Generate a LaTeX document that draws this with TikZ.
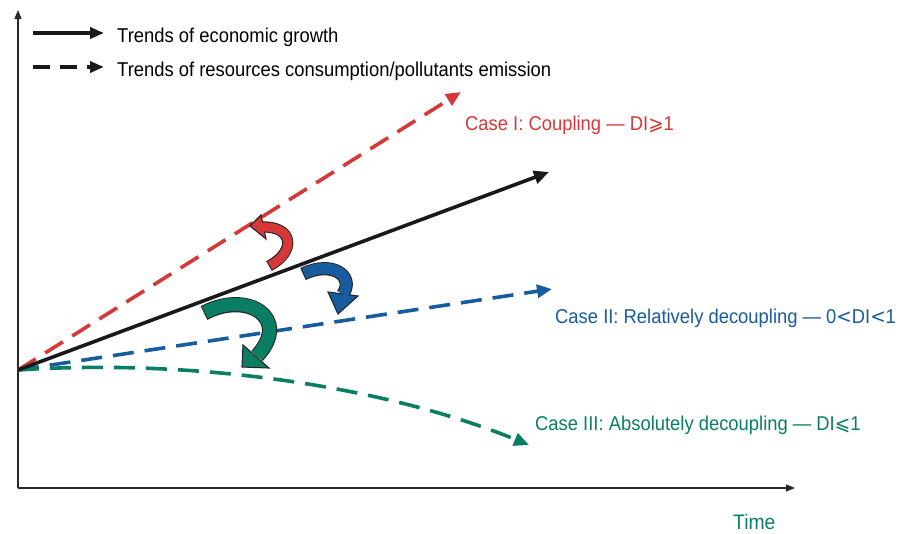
\documentclass[tikz,border=0pt]{standalone}
\usepackage{fontspec}
\setmainfont{Liberation Sans}[FakeStretch=0.92]
\newfontfamily\symfont{DejaVu Sans}[FakeStretch=0.92]
\usetikzlibrary{arrows.meta}
\definecolor{cred}{RGB}{214,56,56}
\definecolor{cblue}{RGB}{22,92,158}
\definecolor{cgreen}{RGB}{10,126,100}
\definecolor{caxis}{RGB}{40,40,40}
\tikzset{
  axis/.style={line width=1.3pt, draw=caxis, -{Triangle[length=9pt,width=7pt]}},
  trend/.style={line width=3.6pt, -{Triangle[length=15pt,width=13pt]}},
  dashtrend/.style={trend, dash pattern=on 21pt off 11pt},
  lbl/.style={anchor=base west, inner sep=0pt, font=\fontsize{20}{22}\selectfont},
  outline/.style={draw=black!85, line width=1.1pt},
}
% fat curved arrow: #1 colour, #2 width, #3 body path, #4 head triangle
\newcommand\fatarrow[4]{%
  \draw[black!85, line width=#2+2.2pt] #3;
  \filldraw[fill=#1, outline] #4;
  \draw[#1, line width=#2, shorten <=1.1pt] #3;
}
\begin{document}
\begin{tikzpicture}[x=1pt,y=-1pt]
\useasboundingbox (0,0) rectangle (899,533);
% axes
\coordinate (O) at (18,488);
\coordinate (ytop) at (18,10);
\coordinate (xend) at (795,488);
\draw[axis] (O) -- (ytop);
\draw[axis] (O) -- (xend);
% origin of trends
\coordinate (S) at (18,370);
\coordinate (redend) at (461,92);
\coordinate (blackend) at (549,172);
\coordinate (blueend) at (552,289);
\coordinate (greenend) at (529,445);
% trends
\draw[dashtrend, cred] (S) -- (redend);
\draw[dashtrend, cblue] (S) -- (blueend);
\draw[dashtrend, cgreen] (S) .. controls (200,358) and (390,388) .. (greenend);
\draw[trend, black!90] (S) -- (blackend);
% curved fat arrows
\fatarrow{cred}{9pt}{(269,266) .. controls (296,252) and (294,226) .. (262,227)}{(250,226) -- (261,215) -- (266,239) -- cycle}
\fatarrow{cblue}{11pt}{(303,274) .. controls (332,260) and (355,276) .. (343,294)}{(338,314) -- (328,292) -- (358,296) -- cycle}
\fatarrow{cgreen}{13pt}{(204,313) .. controls (247,290) and (292,318) .. (257,356)}{(242,367) -- (243,345) -- (269,368) -- cycle}
% legend
\coordinate (l1a) at (33,33);
\coordinate (l1b) at (104,33);
\coordinate (l2a) at (33,67);
\coordinate (l2b) at (104,67);
\draw[trend, black!90, -{Triangle[length=14pt,width=11pt]}] (l1a) -- (l1b);
\draw[trend, black!90, dash pattern=on 17pt off 10pt, -{Triangle[length=14pt,width=11pt]}] (l2a) -- (l2b);
\node[lbl] (t1) at (117,42) {Trends of economic growth};
\node[lbl] (t2) at (117,76) {Trends of resources consumption/pollutants emission};
% case labels
\node[lbl, text=cred] (c1) at (465,130) {Case I: Coupling — DI{\symfont ⩾}1};
\node[lbl, text=cblue] (c2) at (555,323) {Case II: Relatively decoupling — 0{\symfont <}DI{\symfont <}1};
\node[lbl, text=cgreen] (c3) at (535,430) {Case III: Absolutely decoupling — DI{\symfont ⩽}1};
\node[lbl, text=cgreen, font=\fontsize{21}{22}\selectfont] (time) at (733,529) {Time};
\end{tikzpicture}
\end{document}
